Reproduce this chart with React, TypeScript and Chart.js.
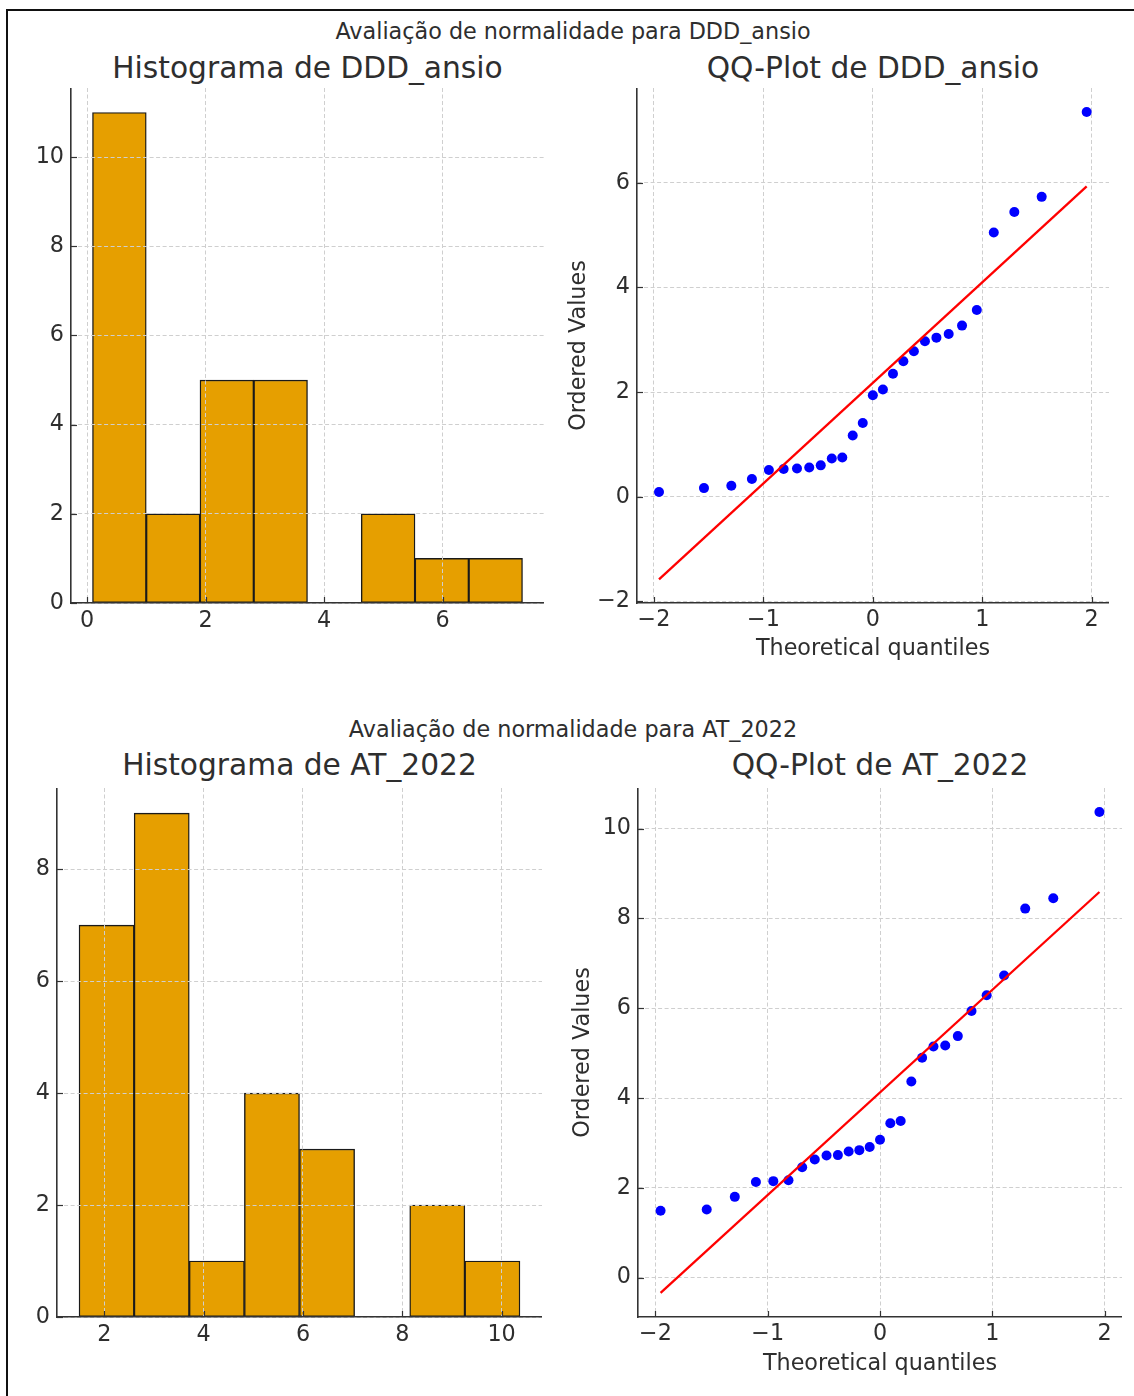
import React, { useEffect, useRef } from 'react';
import { Chart, registerables } from 'chart.js';

Chart.register(...registerables);

// ---------- data ----------
const theoreticalQuantiles = [
  -1.954, -1.543, -1.293, -1.105, -0.95, -0.815, -0.693, -0.581, -0.476, -0.375, -0.279, -0.184, -0.092, 0,
  0.092, 0.184, 0.279, 0.375, 0.476, 0.581, 0.693, 0.815, 0.95, 1.105, 1.293, 1.543, 1.954,
];

const dddOrderedValues = [
  0.09, 0.165, 0.21, 0.34, 0.51, 0.53, 0.54, 0.56, 0.6, 0.73, 0.75, 1.17, 1.41, 1.94,
  2.05, 2.35, 2.59, 2.78, 2.97, 3.04, 3.11, 3.27, 3.57, 5.05, 5.44, 5.73, 7.35,
];
const dddFitLineEnds = [-1.58, 5.93];
const dddHistCounts = [11, 2, 5, 5, 0, 2, 1, 1];

const atOrderedValues = [
  1.49, 1.52, 1.8, 2.13, 2.15, 2.17, 2.46, 2.63, 2.72, 2.73, 2.81, 2.84, 2.91, 3.07,
  3.44, 3.49, 4.37, 4.9, 5.15, 5.17, 5.38, 5.94, 6.29, 6.73, 8.22, 8.45, 10.37,
];
const atFitLineEnds = [-0.34, 8.59];
const atHistCounts = [7, 9, 1, 4, 3, 0, 2, 1];

const suptitles = ['Avaliação de normalidade para DDD_ansio', 'Avaliação de normalidade para AT_2022'];
const histTitles = ['Histograma de DDD_ansio', 'Histograma de AT_2022'];
const qqTitles = ['QQ-Plot de DDD_ansio', 'QQ-Plot de AT_2022'];
const qqXLabel = 'Theoretical quantiles';
const qqYLabel = 'Ordered Values';

// ---------- styling ----------
const FONT = "'DejaVu Sans', 'Noto Sans', sans-serif";
const TEXT = '#2e2e2e';
const TICK_SIZE = 22.3;
const TITLE_SIZE = 29.7;
const GRID = '#cfcfcf';
const SPINE = '#333333';
const BAR_FILL = '#E69F00';

Chart.defaults.font.family = FONT;

const fmt = (v: number) => (v < 0 ? '\u2212' + Math.abs(v) : String(v));

const inwardTicks = {
  id: 'inwardTicks',
  afterDraw(chart: any) {
    const { ctx, chartArea } = chart;
    const xs = chart.scales.x;
    const ys = chart.scales.y;
    ctx.save();
    ctx.strokeStyle = SPINE;
    ctx.lineWidth = 1.2;
    xs.ticks.forEach((t: any) => {
      const px = Math.round(xs.getPixelForValue(t.value)) + 0.5;
      ctx.beginPath();
      ctx.moveTo(px, chartArea.bottom);
      ctx.lineTo(px, chartArea.bottom - 6);
      ctx.stroke();
    });
    ys.ticks.forEach((t: any) => {
      const py = Math.round(ys.getPixelForValue(t.value)) + 0.5;
      ctx.beginPath();
      ctx.moveTo(chartArea.left, py);
      ctx.lineTo(chartArea.left + 6, py);
      ctx.stroke();
    });
    ctx.restore();
  },
};

function axis(opts: {
  min: number;
  max: number;
  step: number;
  fitSize: number;
  horizontal: boolean;
  gridOnTop?: boolean;
  title?: string;
  titlePad?: any;
  tickPad: number;
}) {
  return {
    type: 'linear',
    min: opts.min,
    max: opts.max,
    offset: false,
    grid: {
      display: true,
      color: GRID,
      lineWidth: 1,
      drawTicks: false,
      offset: false,
      z: opts.gridOnTop ? 1 : -1,
    },
    border: { display: true, color: SPINE, width: 1.6, dash: [4, 2.5], z: opts.gridOnTop ? 2 : 0 },
    ticks: {
      stepSize: opts.step,
      includeBounds: false,
      padding: opts.tickPad,
      color: TEXT,
      font: { family: FONT, size: TICK_SIZE },
      maxRotation: 0,
      autoSkip: false,
      callback: (v: any) => fmt(Number(v)),
    },
    title: opts.title
      ? { display: true, text: opts.title, color: TEXT, font: { family: FONT, size: TICK_SIZE }, padding: opts.titlePad }
      : { display: false },
    afterFit: (scale: any) => {
      if (opts.horizontal) scale.height = opts.fitSize;
      else scale.width = opts.fitSize;
      scale.paddingTop = 0;
      scale.paddingBottom = 0;
      scale.paddingLeft = 0;
      scale.paddingRight = 0;
    },
  };
}

function histBars(values: number[], counts: number[]) {
  const lo = Math.min(...values);
  const hi = Math.max(...values);
  const w = (hi - lo) / counts.length;
  return counts.map((c, i) => ({ x: lo + w * (i + 0.5), y: c }));
}

function histConfig(values: number[], counts: number[], xr: number[], yr: number[], L: number, B: number) {
  return {
    type: 'bar',
    data: {
      datasets: [
        {
          data: histBars(values, counts),
          backgroundColor: BAR_FILL,
          borderColor: '#1a1a1a',
          borderWidth: 1.4,
          borderSkipped: false,
          barPercentage: 1,
          categoryPercentage: 1,
        },
      ],
    },
    options: {
      animation: false,
      responsive: false,
      maintainAspectRatio: false,
      layout: { padding: 0, autoPadding: false },
      plugins: { legend: { display: false }, tooltip: { enabled: false }, title: { display: false } },
      scales: {
        x: axis({ min: xr[0], max: xr[1], step: 2, fitSize: B, horizontal: true, gridOnTop: true, tickPad: 5 }),
        y: axis({ min: yr[0], max: yr[1], step: 2, fitSize: L, horizontal: false, gridOnTop: true, tickPad: 7 }),
      },
    },
    plugins: [inwardTicks],
  };
}

function qqConfig(values: number[], fit: number[], xr: number[], yr: number[], L: number, B: number, yTitlePad: number, xTitlePad: number) {
  const pts = theoreticalQuantiles.map((q, i) => ({ x: q, y: values[i] }));
  const n = theoreticalQuantiles.length;
  const line = [
    { x: theoreticalQuantiles[0], y: fit[0] },
    { x: theoreticalQuantiles[n - 1], y: fit[1] },
  ];
  return {
    type: 'scatter',
    data: {
      datasets: [
        { data: line, showLine: true, borderColor: '#ff0000', borderWidth: 2.3, pointRadius: 0, fill: false },
        { data: pts, pointRadius: 5, pointBackgroundColor: '#0000ff', pointBorderWidth: 0, backgroundColor: '#0000ff', showLine: false },
      ],
    },
    options: {
      animation: false,
      responsive: false,
      maintainAspectRatio: false,
      layout: { padding: 0, autoPadding: false },
      plugins: { legend: { display: false }, tooltip: { enabled: false }, title: { display: false } },
      scales: {
        x: axis({ min: xr[0], max: xr[1], step: 1, fitSize: B, horizontal: true, title: qqXLabel, titlePad: { top: 0, bottom: xTitlePad }, tickPad: 4 }),
        y: axis({ min: yr[0], max: yr[1], step: 2, fitSize: L, horizontal: false, title: qqYLabel, titlePad: { top: yTitlePad, bottom: 0 }, tickPad: 7 }),
      },
    },
    plugins: [inwardTicks],
  };
}

function ChartBox({ left, top, width, height, config }: any) {
  const ref = useRef<HTMLCanvasElement>(null);
  useEffect(() => {
    if (!ref.current) return;
    const chart = new Chart(ref.current, config);
    return () => chart.destroy();
  }, []);
  return (
    <canvas
      ref={ref}
      width={width}
      height={height}
      style={{ position: 'absolute', left, top, width, height }}
    />
  );
}

function Text({ cx, top, size, children }: any) {
  return (
    <div
      style={{
        position: 'absolute',
        left: cx - 400,
        width: 800,
        top,
        textAlign: 'center',
        fontSize: size,
        lineHeight: 1,
        color: TEXT,
        whiteSpace: 'nowrap',
        fontFamily: FONT,
      }}
    >
      {children}
    </div>
  );
}

export default function App() {
  // geometry of each plot area: [left, top, right, bottom]
  const h1 = [71, 88, 544, 603];
  const q1 = [637, 88, 1109, 603];
  const h2 = [57, 788, 542, 1317];
  const q2 = [638, 788, 1122, 1317];

  const c1 = histConfig(dddOrderedValues, dddHistCounts, [-0.273, 7.713], [0, 11.55], 71, 40);
  const c2 = qqConfig(dddOrderedValues, dddFitLineEnds, [-2.155, 2.158], [-2.03, 7.81], 80, 62, 8.6, 2.2);
  const c3 = histConfig(atOrderedValues, atHistCounts, [1.046, 10.814], [0, 9.45], 57, 40);
  const c4 = qqConfig(atOrderedValues, atFitLineEnds, [-2.155, 2.155], [-0.876, 10.906], 80, 62, 11.6, 1.2);

  return (
    <div
      style={{
        position: 'fixed',
        left: 0,
        top: 0,
        width: 1134,
        height: 1396,
        overflow: 'hidden',
        background: '#ffffff',
        fontFamily: FONT,
      }}
    >
      <div
        style={{
          position: 'absolute',
          left: 6,
          top: 9,
          width: 1300,
          height: 1500,
          border: '2px solid #111',
          boxSizing: 'border-box',
        }}
      />
      <Text cx={573} top={20.4} size={TICK_SIZE}>{suptitles[0]}</Text>
      <Text cx={(h1[0] + h1[2]) / 2} top={53.2} size={TITLE_SIZE}>{histTitles[0]}</Text>
      <Text cx={(q1[0] + q1[2]) / 2} top={53.2} size={TITLE_SIZE}>{qqTitles[0]}</Text>
      <Text cx={573} top={718.4} size={TICK_SIZE}>{suptitles[1]}</Text>
      <Text cx={(h2[0] + h2[2]) / 2} top={749.9} size={TITLE_SIZE}>{histTitles[1]}</Text>
      <Text cx={(q2[0] + q2[2]) / 2} top={749.9} size={TITLE_SIZE}>{qqTitles[1]}</Text>

      <ChartBox left={h1[0] - 71} top={h1[1]} width={h1[2] - h1[0] + 71} height={h1[3] - h1[1] + 40} config={c1} />
      <ChartBox left={q1[0] - 80} top={q1[1]} width={q1[2] - q1[0] + 80} height={q1[3] - q1[1] + 62} config={c2} />
      <ChartBox left={h2[0] - 57} top={h2[1]} width={h2[2] - h2[0] + 57} height={h2[3] - h2[1] + 40} config={c3} />
      <ChartBox left={q2[0] - 80} top={q2[1]} width={q2[2] - q2[0] + 80} height={q2[3] - q2[1] + 62} config={c4} />
    </div>
  );
}
